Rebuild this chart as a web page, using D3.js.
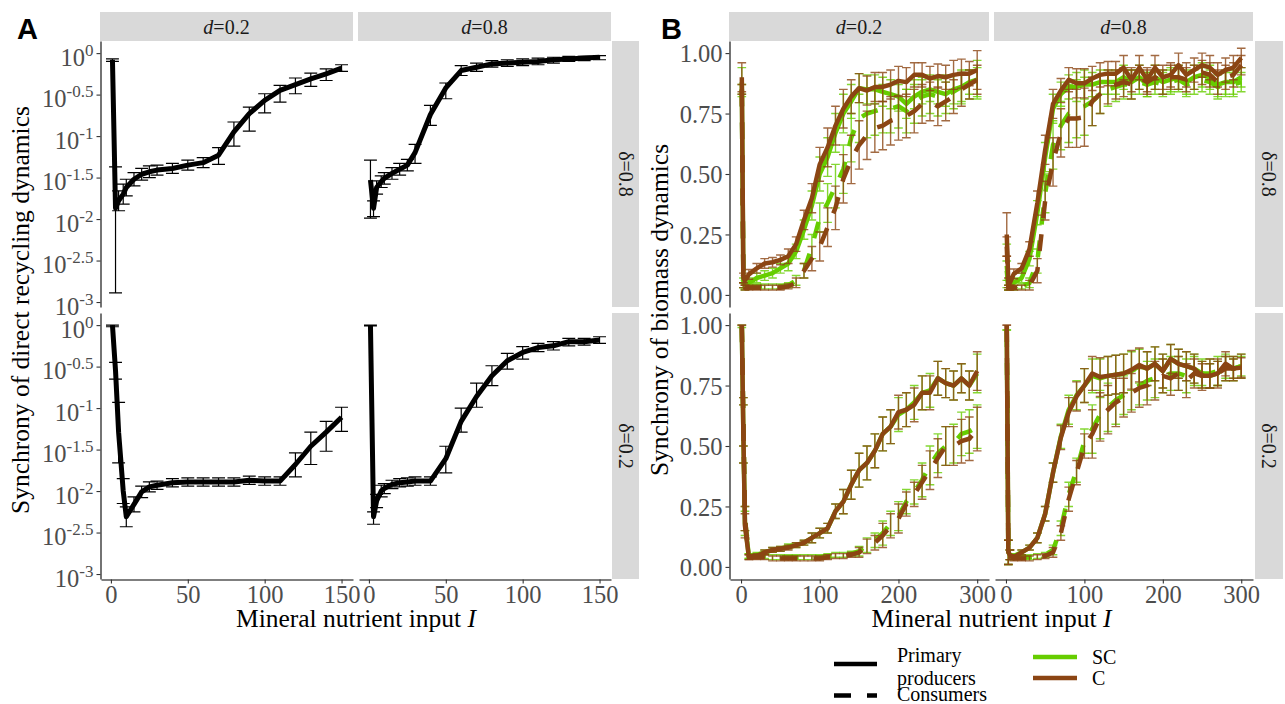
<!DOCTYPE html>
<html>
<head>
<meta charset="utf-8">
<script src="https://cdn.jsdelivr.net/npm/d3@7"></script>
<style>
  body { margin: 0; background: #fff; }
  svg { display: block; }
</style>
</head>
<body>
<svg id="chart" width="1285" height="704"></svg>
<script>
// ---------- data : panel A (log10 of synchrony of direct recycling) ----------
var xA = [1, 3, 5, 8, 10, 15, 20, 25, 30, 40, 50, 60, 70, 80, 90, 100, 110, 120, 130, 140, 150];
var yTicksA = [0, -0.5, -1, -1.5, -2, -2.5, -3]; // exponents

// d=0.2 , delta=0.8
var recMean_d02_s08 = [-0.08, -1.87, -1.78, -1.70, -1.62, -1.52, -1.46, -1.43, -1.41, -1.39, -1.35, -1.32, -1.23, -0.95, -0.73, -0.57, -0.45, -0.38, -0.31, -0.25, -0.18];
var recLo_d02_s08 = [-0.10, -2.89, -1.90, -1.82, -1.72, -1.60, -1.53, -1.50, -1.47, -1.45, -1.41, -1.38, -1.34, -1.12, -0.94, -0.72, -0.59, -0.49, -0.40, -0.33, -0.22];
var recHi_d02_s08 = [-0.07, -1.37, -1.66, -1.58, -1.52, -1.44, -1.39, -1.36, -1.35, -1.33, -1.29, -1.26, -1.14, -0.83, -0.65, -0.49, -0.39, -0.30, -0.24, -0.19, -0.14];
// d=0.8 , delta=0.8
var recMean_d08_s08 = [-1.53, -1.87, -1.62, -1.55, -1.51, -1.45, -1.40, -1.35, -1.20, -0.74, -0.42, -0.21, -0.17, -0.13, -0.12, -0.11, -0.10, -0.08, -0.07, -0.06, -0.05];
var recLo_d08_s08 = [-1.99, -1.97, -1.70, -1.62, -1.58, -1.52, -1.47, -1.42, -1.33, -0.87, -0.55, -0.27, -0.22, -0.17, -0.16, -0.15, -0.14, -0.12, -0.10, -0.09, -0.08];
var recHi_d08_s08 = [-1.29, -1.78, -1.54, -1.48, -1.44, -1.38, -1.33, -1.28, -1.10, -0.63, -0.36, -0.15, -0.12, -0.09, -0.08, -0.07, -0.06, -0.05, -0.04, -0.04, -0.03];
// d=0.2 , delta=0.2
var recMean_d02_s02 = [0.00, -0.55, -1.29, -2.00, -2.31, -2.16, -2.01, -1.95, -1.93, -1.90, -1.89, -1.89, -1.89, -1.89, -1.87, -1.88, -1.88, -1.68, -1.46, -1.29, -1.11];
var recLo_d02_s02 = [-0.02, -0.65, -1.66, -2.15, -2.43, -2.25, -2.08, -2.01, -1.98, -1.95, -1.94, -1.94, -1.94, -1.94, -1.92, -1.93, -1.93, -1.83, -1.68, -1.52, -1.28];
var recHi_d02_s02 = [0.00, -0.45, -0.93, -1.85, -2.19, -2.07, -1.94, -1.89, -1.88, -1.85, -1.84, -1.84, -1.84, -1.84, -1.82, -1.83, -1.83, -1.54, -1.29, -1.16, -0.99];
// d=0.8 , delta=0.2
var recMean_d08_s02 = [0.00, -2.31, -2.12, -2.00, -1.97, -1.92, -1.90, -1.89, -1.88, -1.88, -1.61, -1.16, -0.86, -0.61, -0.43, -0.33, -0.27, -0.25, -0.20, -0.20, -0.18];
var recLo_d08_s02 = [-0.01, -2.40, -2.20, -2.07, -2.03, -1.97, -1.95, -1.94, -1.93, -1.93, -1.78, -1.29, -0.99, -0.73, -0.53, -0.41, -0.32, -0.30, -0.25, -0.24, -0.22];
var recHi_d08_s02 = [0.00, -2.25, -2.04, -1.93, -1.91, -1.87, -1.85, -1.84, -1.83, -1.83, -1.46, -1.00, -0.70, -0.49, -0.34, -0.26, -0.22, -0.20, -0.16, -0.16, -0.14];

// ---------- data : panel B (synchrony of biomass dynamics) ----------
var xB = [1, 3, 5, 10, 20, 30, 40, 50, 60, 70, 80, 90, 100, 110, 120, 130, 140, 150, 160, 170, 180, 190, 200, 210, 220, 230, 240, 250, 260, 270, 280, 290, 300];
var yTicksB = [0, 0.25, 0.5, 0.75, 1];
var xTicksA = [0, 50, 100, 150];
var xTicksB = [0, 100, 200, 300];

// d=0.2 , delta=0.8
var bio_d02_s08_ppC = [0.90, 0.07, 0.06, 0.085, 0.11, 0.13, 0.135, 0.145, 0.16, 0.21, 0.31, 0.40, 0.54, 0.61, 0.70, 0.77, 0.82, 0.855, 0.845, 0.86, 0.86, 0.87, 0.885, 0.88, 0.91, 0.91, 0.895, 0.905, 0.90, 0.91, 0.915, 0.915, 0.93];
var bio_d02_s08_ppSC = [0.88, 0.05, 0.04, 0.05, 0.07, 0.08, 0.09, 0.11, 0.13, 0.18, 0.27, 0.37, 0.50, 0.57, 0.67, 0.75, 0.80, 0.855, 0.85, 0.85, 0.84, 0.83, 0.82, 0.79, 0.82, 0.84, 0.85, 0.84, 0.83, 0.85, 0.86, 0.88, 0.89];
var bio_d02_s08_conC = [0.85, 0.04, 0.03, 0.03, 0.03, 0.03, 0.03, 0.03, 0.035, 0.05, 0.10, 0.15, 0.20, 0.28, 0.36, 0.48, 0.56, 0.62, 0.66, 0.69, 0.70, 0.72, 0.73, 0.74, 0.76, 0.79, 0.80, 0.78, 0.80, 0.82, 0.85, 0.87, 0.89];
var bio_d02_s08_conSC = [0.85, 0.04, 0.035, 0.035, 0.035, 0.035, 0.035, 0.035, 0.04, 0.06, 0.10, 0.20, 0.32, 0.38, 0.45, 0.52, 0.65, 0.73, 0.75, 0.76, 0.77, 0.77, 0.78, 0.76, 0.80, 0.82, 0.83, 0.82, 0.83, 0.84, 0.86, 0.87, 0.88];
var bioErr_d02_s08_pp = [0.06, 0.02, 0.02, 0.02, 0.02, 0.02, 0.02, 0.02, 0.03, 0.03, 0.04, 0.06, 0.07, 0.08, 0.08, 0.08, 0.07, 0.06, 0.06, 0.06, 0.06, 0.06, 0.06, 0.06, 0.05, 0.05, 0.05, 0.05, 0.05, 0.06, 0.06, 0.05, 0.08];
var bioErr_d02_s08_con = [0.02, 0.01, 0.01, 0.01, 0.01, 0.01, 0.01, 0.01, 0.01, 0.02, 0.03, 0.05, 0.06, 0.08, 0.09, 0.10, 0.10, 0.10, 0.10, 0.10, 0.10, 0.10, 0.09, 0.09, 0.09, 0.08, 0.08, 0.08, 0.08, 0.07, 0.07, 0.06, 0.06];
// d=0.8 , delta=0.8
var bio_d08_s08_ppC = [0.25, 0.05, 0.05, 0.087, 0.11, 0.19, 0.38, 0.60, 0.79, 0.845, 0.89, 0.875, 0.875, 0.895, 0.91, 0.915, 0.915, 0.94, 0.89, 0.94, 0.89, 0.94, 0.90, 0.91, 0.95, 0.91, 0.93, 0.95, 0.94, 0.91, 0.93, 0.94, 0.98];
var bio_d08_s08_ppSC = [0.12, 0.04, 0.04, 0.05, 0.07, 0.15, 0.34, 0.57, 0.77, 0.83, 0.86, 0.86, 0.87, 0.87, 0.88, 0.88, 0.88, 0.90, 0.88, 0.90, 0.87, 0.90, 0.88, 0.89, 0.90, 0.88, 0.90, 0.91, 0.90, 0.87, 0.88, 0.88, 0.90];
var bio_d08_s08_conC = [0.20, 0.03, 0.03, 0.03, 0.03, 0.04, 0.10, 0.39, 0.55, 0.67, 0.73, 0.73, 0.735, 0.80, 0.83, 0.86, 0.87, 0.88, 0.87, 0.90, 0.88, 0.90, 0.88, 0.90, 0.90, 0.89, 0.90, 0.92, 0.91, 0.88, 0.90, 0.91, 0.95];
var bio_d08_s08_conSC = [0.10, 0.03, 0.03, 0.03, 0.035, 0.05, 0.14, 0.42, 0.62, 0.70, 0.75, 0.77, 0.78, 0.80, 0.83, 0.85, 0.86, 0.87, 0.87, 0.88, 0.87, 0.88, 0.87, 0.88, 0.89, 0.87, 0.88, 0.89, 0.88, 0.86, 0.87, 0.87, 0.88];
var bioErr_d08_s08_pp = [0.09, 0.02, 0.02, 0.02, 0.02, 0.03, 0.05, 0.06, 0.06, 0.05, 0.05, 0.06, 0.06, 0.05, 0.05, 0.05, 0.05, 0.05, 0.05, 0.05, 0.05, 0.05, 0.05, 0.05, 0.05, 0.05, 0.05, 0.05, 0.05, 0.05, 0.05, 0.05, 0.04];
var bioErr_d08_s08_con = [0.04, 0.01, 0.01, 0.01, 0.01, 0.02, 0.05, 0.08, 0.10, 0.10, 0.12, 0.12, 0.12, 0.10, 0.08, 0.07, 0.06, 0.06, 0.06, 0.05, 0.05, 0.05, 0.05, 0.05, 0.05, 0.05, 0.05, 0.05, 0.05, 0.05, 0.05, 0.05, 0.04];
// d=0.2 , delta=0.2
var bio_d02_s02_ppC = [1.00, 0.55, 0.17, 0.04, 0.045, 0.06, 0.07, 0.075, 0.08, 0.09, 0.10, 0.12, 0.14, 0.16, 0.23, 0.27, 0.34, 0.40, 0.43, 0.48, 0.55, 0.58, 0.64, 0.65, 0.67, 0.72, 0.72, 0.78, 0.76, 0.75, 0.78, 0.75, 0.81];
var bio_d02_s02_ppSC = [0.99, 0.55, 0.18, 0.045, 0.05, 0.06, 0.07, 0.075, 0.085, 0.09, 0.10, 0.12, 0.14, 0.16, 0.23, 0.27, 0.34, 0.40, 0.43, 0.48, 0.55, 0.58, 0.63, 0.65, 0.68, 0.72, 0.73, 0.78, 0.76, 0.75, 0.78, 0.75, 0.80];
var bio_d02_s02_conC = [1.00, 0.60, 0.20, 0.04, 0.04, 0.04, 0.035, 0.035, 0.035, 0.035, 0.035, 0.035, 0.035, 0.04, 0.045, 0.045, 0.05, 0.06, 0.085, 0.10, 0.13, 0.17, 0.20, 0.26, 0.30, 0.35, 0.40, 0.45, 0.50, 0.50, 0.52, 0.53, 0.57];
var bio_d02_s02_conSC = [1.00, 0.60, 0.20, 0.045, 0.045, 0.045, 0.04, 0.04, 0.04, 0.04, 0.04, 0.04, 0.04, 0.045, 0.05, 0.05, 0.055, 0.065, 0.09, 0.11, 0.14, 0.18, 0.21, 0.27, 0.31, 0.36, 0.42, 0.47, 0.50, 0.51, 0.55, 0.56, 0.58];
var bioErr_d02_s02_pp = [0.00, 0.12, 0.05, 0.01, 0.01, 0.01, 0.01, 0.01, 0.01, 0.01, 0.01, 0.02, 0.02, 0.02, 0.03, 0.05, 0.06, 0.07, 0.07, 0.07, 0.07, 0.07, 0.07, 0.07, 0.07, 0.07, 0.07, 0.07, 0.06, 0.06, 0.06, 0.06, 0.08];
var bioErr_d02_s02_con = [0.00, 0.10, 0.05, 0.01, 0.01, 0.01, 0.01, 0.01, 0.01, 0.01, 0.01, 0.01, 0.01, 0.01, 0.01, 0.01, 0.01, 0.02, 0.03, 0.03, 0.05, 0.05, 0.06, 0.05, 0.05, 0.07, 0.08, 0.08, 0.08, 0.08, 0.09, 0.09, 0.09];
// d=0.8 , delta=0.2
var bio_d08_s02_ppC = [1.00, 0.06, 0.05, 0.04, 0.06, 0.08, 0.12, 0.22, 0.39, 0.535, 0.64, 0.705, 0.75, 0.80, 0.785, 0.79, 0.795, 0.80, 0.815, 0.835, 0.82, 0.84, 0.81, 0.86, 0.84, 0.83, 0.82, 0.79, 0.79, 0.80, 0.84, 0.82, 0.825];
var bio_d08_s02_ppSC = [0.98, 0.06, 0.05, 0.045, 0.06, 0.08, 0.12, 0.22, 0.39, 0.54, 0.65, 0.71, 0.75, 0.79, 0.78, 0.79, 0.795, 0.80, 0.81, 0.83, 0.82, 0.84, 0.81, 0.86, 0.84, 0.83, 0.82, 0.80, 0.79, 0.80, 0.83, 0.82, 0.83];
var bio_d08_s02_conC = [1.00, 0.06, 0.05, 0.035, 0.035, 0.035, 0.04, 0.045, 0.06, 0.14, 0.28, 0.39, 0.50, 0.55, 0.62, 0.65, 0.68, 0.70, 0.72, 0.74, 0.75, 0.77, 0.79, 0.78, 0.80, 0.77, 0.80, 0.79, 0.80, 0.80, 0.82, 0.82, 0.83];
var bio_d08_s02_conSC = [0.98, 0.06, 0.05, 0.04, 0.04, 0.04, 0.045, 0.05, 0.07, 0.16, 0.30, 0.40, 0.52, 0.57, 0.63, 0.66, 0.69, 0.71, 0.73, 0.75, 0.77, 0.78, 0.79, 0.80, 0.80, 0.79, 0.81, 0.80, 0.80, 0.81, 0.82, 0.82, 0.83];
var bioErr_d08_s02_pp = [0.00, 0.05, 0.02, 0.01, 0.01, 0.01, 0.02, 0.03, 0.04, 0.05, 0.06, 0.06, 0.07, 0.07, 0.08, 0.08, 0.08, 0.08, 0.08, 0.07, 0.07, 0.07, 0.07, 0.06, 0.06, 0.06, 0.06, 0.05, 0.05, 0.05, 0.05, 0.04, 0.04];
var bioErr_d08_s02_con = [0.00, 0.05, 0.02, 0.01, 0.01, 0.01, 0.01, 0.01, 0.02, 0.03, 0.05, 0.05, 0.05, 0.10, 0.10, 0.10, 0.10, 0.08, 0.08, 0.08, 0.08, 0.08, 0.07, 0.07, 0.07, 0.07, 0.06, 0.06, 0.06, 0.06, 0.05, 0.05, 0.05];

var colLabels = ['0.2', '0.8'];   // d
var rowLabels = ['0.8', '0.2'];   // delta

// ---------- layout ----------
var FONT = "'Liberation Serif','Times New Roman',serif";
var GREEN = '#66CD00', BROWN = '#8B4513';
var svg = d3.select('#chart');
var rowY = [[41, 307], [313, 579]];
var colA = [[101, 353], [359, 611]];
var colB = [[730, 989], [995, 1253]];

// bandeau du haut (d=...)
function stripTop(x0, x1, lab) {
    svg.append('rect').attr('x', x0).attr('y', 12).attr('width', x1 - x0).attr('height', 29).attr('fill', '#d9d9d9');
    var t = svg.append('text').attr('x', (x0 + x1) / 2).attr('y', 33.5).attr('text-anchor', 'middle')
        .style('font-family', FONT).style('font-size', '20px').attr('fill', '#1a1a1a');
    t.append('tspan').style('font-style', 'italic').text('d');
    t.append('tspan').text('=' + lab);
}
// bandeau de droite (delta=...)
function stripRight(x0, x1, y0, y1, lab) {
    svg.append('rect').attr('x', x0).attr('y', y0).attr('width', x1 - x0).attr('height', y1 - y0).attr('fill', '#d9d9d9');
    svg.append('text').attr('transform', 'translate(' + ((x0 + x1) / 2) + ',' + ((y0 + y1) / 2) + ') rotate(90)')
        .attr('y', 7).attr('text-anchor', 'middle')
        .style('font-family', FONT).style('font-size', '20px').attr('fill', '#1a1a1a')
        .text('\u03B4=' + lab);
}

function errBars(g, pts, x, y, half, color, sw, op) {
    g.append('g').selectAll('path').data(pts).enter().append('path')
        .attr('d', function (d) {
            var cx = x(d.x), yl = y(d.lo), yh = y(d.hi);
            return 'M' + (cx - half) + ',' + yl + 'H' + (cx + half) + 'M' + cx + ',' + yl + 'V' + yh +
                'M' + (cx - half) + ',' + yh + 'H' + (cx + half);
        })
        .attr('fill', 'none').attr('stroke', color).attr('stroke-width', sw).attr('stroke-opacity', op);
}

function styleAxis(g) {
    g.select('.domain').attr('stroke', '#000').attr('stroke-width', 1.1);
    g.selectAll('.tick line').attr('stroke', '#333').attr('stroke-width', 1.1);
    g.selectAll('.tick text').style('font-family', FONT).style('font-size', '24.5px').attr('fill', '#4d4d4d');
}

// ---------- panel A ----------
var panelsA = [
    { c: 0, r: 0, m: recMean_d02_s08, lo: recLo_d02_s08, hi: recHi_d02_s08 },
    { c: 1, r: 0, m: recMean_d08_s08, lo: recLo_d08_s08, hi: recHi_d08_s08 },
    { c: 0, r: 1, m: recMean_d02_s02, lo: recLo_d02_s02, hi: recHi_d02_s02 },
    { c: 1, r: 1, m: recMean_d08_s02, lo: recLo_d08_s02, hi: recHi_d08_s02 }
];
panelsA.forEach(function (p) {
    var x = d3.scaleLinear().domain([-6.45, 157.45]).range(colA[p.c]);
    var y = d3.scaleLog().domain([Math.pow(10, -3.06), Math.pow(10, 0.146)]).range([rowY[p.r][1], rowY[p.r][0]]);
    var g = svg.append('g');
    var pts = xA.map(function (v, i) {
        return { x: v, m: Math.pow(10, p.m[i]), lo: Math.pow(10, p.lo[i]), hi: Math.pow(10, p.hi[i]) };
    });
    errBars(g, pts, x, y, x(4.2) - x(0), '#000', 1.2, 1);
    g.append('path').datum(pts)
        .attr('d', d3.line().x(function (d) { return x(d.x); }).y(function (d) { return y(d.m); }))
        .attr('fill', 'none').attr('stroke', '#000').attr('stroke-width', 5).attr('stroke-linejoin', 'round');

    if (p.c === 0) {
        var ay = svg.append('g').attr('transform', 'translate(' + (colA[0][0] - 0.5) + ',0)')
            .call(d3.axisLeft(y).tickValues(yTicksA.map(function (e) { return Math.pow(10, e); }))
                .tickSize(4).tickSizeOuter(0).tickFormat(''));
        styleAxis(ay);
        ay.selectAll('.tick text').remove();
        ay.selectAll('.tick').append('text')
            .attr('x', -7).attr('y', 12).attr('text-anchor', 'end')
            .style('font-family', FONT).attr('fill', '#4d4d4d')
            .each(function (d) {
                var e = Math.round(Math.log10(d) * 2) / 2;
                var t = d3.select(this);
                t.append('tspan').style('font-size', '24.5px').text('10');
                t.append('tspan').attr('dy', -10).style('font-size', '17px').text(String(e));
            });
    }
    if (p.r === 1) {
        var ax = svg.append('g').attr('transform', 'translate(0,' + (rowY[1][1] + 0.5) + ')')
            .call(d3.axisBottom(x).tickValues(xTicksA).tickSize(4).tickSizeOuter(0).tickPadding(3));
        styleAxis(ax);
        ax.selectAll('.tick text').attr('dy', '0.68em');
    }
});

// ---------- panel B ----------
var panelsB = [
    { c: 0, r: 0, ppSC: bio_d02_s08_ppSC, ppC: bio_d02_s08_ppC, conSC: bio_d02_s08_conSC, conC: bio_d02_s08_conC, ePP: bioErr_d02_s08_pp, eCon: bioErr_d02_s08_con },
    { c: 1, r: 0, ppSC: bio_d08_s08_ppSC, ppC: bio_d08_s08_ppC, conSC: bio_d08_s08_conSC, conC: bio_d08_s08_conC, ePP: bioErr_d08_s08_pp, eCon: bioErr_d08_s08_con },
    { c: 0, r: 1, ppSC: bio_d02_s02_ppSC, ppC: bio_d02_s02_ppC, conSC: bio_d02_s02_conSC, conC: bio_d02_s02_conC, ePP: bioErr_d02_s02_pp, eCon: bioErr_d02_s02_con },
    { c: 1, r: 1, ppSC: bio_d08_s02_ppSC, ppC: bio_d08_s02_ppC, conSC: bio_d08_s02_conSC, conC: bio_d08_s02_conC, ePP: bioErr_d08_s02_pp, eCon: bioErr_d08_s02_con }
];
panelsB.forEach(function (p) {
    var x = d3.scaleLinear().domain([-14, 315]).range(colB[p.c]);
    var y = d3.scaleLinear().domain([-0.05, 1.05]).range([rowY[p.r][1], rowY[p.r][0]]);
    var g = svg.append('g');
    var line = d3.line().x(function (d) { return x(d.x); }).y(function (d) { return y(d.m); });
    var half = x(5.5) - x(0);
    function series(vals, err) {
        return xB.map(function (v, i) { return { x: v, m: vals[i], lo: vals[i] - err[i], hi: vals[i] + err[i] }; });
    }
    [[GREEN, p.ppSC, p.conSC], [BROWN, p.ppC, p.conC]].forEach(function (s) {
        var pp = series(s[1], p.ePP), con = series(s[2], p.eCon);
        errBars(g, pp, x, y, half, s[0], 1.4, 0.8);
        errBars(g, con, x, y, half, s[0], 1.4, 0.8);
        g.append('path').datum(pp).attr('d', line).attr('fill', 'none').attr('stroke', s[0])
            .attr('stroke-width', 4.5).attr('stroke-linejoin', 'round');
        g.append('path').datum(con).attr('d', line).attr('fill', 'none').attr('stroke', s[0])
            .attr('stroke-width', 4.5).attr('stroke-dasharray', '17,16');
    });
    if (p.c === 0) {
        var ay = svg.append('g').attr('transform', 'translate(' + (colB[0][0] - 0.5) + ',0)')
            .call(d3.axisLeft(y).tickValues(yTicksB).tickSize(4).tickSizeOuter(0).tickPadding(3).tickFormat(d3.format('.2f')));
        styleAxis(ay);
        ay.selectAll('.tick text').attr('dy', '0.36em');
    }
    if (p.r === 1) {
        var ax = svg.append('g').attr('transform', 'translate(0,' + (rowY[1][1] + 0.5) + ')')
            .call(d3.axisBottom(x).tickValues(xTicksB).tickSize(4).tickSizeOuter(0).tickPadding(3));
        styleAxis(ax);
        ax.selectAll('.tick text').attr('dy', '0.68em');
    }
});

// ---------- strips ----------
for (var c = 0; c < 2; c++) {
    stripTop(colA[c][0] - 1, colA[c][1], colLabels[c]);
    stripTop(colB[c][0] - 1, colB[c][1], colLabels[c]);
}
for (var r = 0; r < 2; r++) {
    stripRight(612, 639, rowY[r][0], rowY[r][1], rowLabels[r]);
    stripRight(1255, 1283, rowY[r][0], rowY[r][1], rowLabels[r]);
}

// ---------- titles ----------
function xTitle(cx) {
    var t = svg.append('text').attr('x', cx).attr('y', 627).attr('text-anchor', 'middle')
        .style('font-family', FONT).style('font-size', '25.5px').attr('fill', '#000');
    t.append('tspan').text('Mineral nutrient input ');
    t.append('tspan').style('font-style', 'italic').text('I');
}
xTitle((colA[0][0] + colA[1][1]) / 2);
xTitle((colB[0][0] + colB[1][1]) / 2);

svg.append('text').attr('transform', 'translate(29,310) rotate(-90)').attr('text-anchor', 'middle')
    .style('font-family', FONT).style('font-size', '25.5px').attr('fill', '#000')
    .text('Synchrony of direct recycling dynamics');
svg.append('text').attr('transform', 'translate(668,310) rotate(-90)').attr('text-anchor', 'middle')
    .style('font-family', FONT).style('font-size', '25.5px').attr('fill', '#000')
    .text('Synchrony of biomass dynamics');

svg.append('text').attr('x', 17).attr('y', 39).style('font-family', "'Liberation Sans',Arial,sans-serif")
    .style('font-size', '29px').style('font-weight', 'bold').text('A');
svg.append('text').attr('x', 661).attr('y', 39).style('font-family', "'Liberation Sans',Arial,sans-serif")
    .style('font-size', '29px').style('font-weight', 'bold').text('B');

// ---------- legend ----------
var lg = svg.append('g').style('font-family', FONT).style('font-size', '20px');
lg.append('line').attr('x1', 834).attr('x2', 877).attr('y1', 664).attr('y2', 664).attr('stroke', '#000').attr('stroke-width', 4.5);
lg.append('line').attr('x1', 834).attr('x2', 877).attr('y1', 695.5).attr('y2', 695.5).attr('stroke', '#000').attr('stroke-width', 4.5).attr('stroke-dasharray', '17,16');
lg.append('text').attr('x', 897).attr('y', 662).text('Primary');
lg.append('text').attr('x', 897).attr('y', 685).text('producers');
lg.append('text').attr('x', 897).attr('y', 701).text('Consumers');
lg.append('line').attr('x1', 1033).attr('x2', 1077).attr('y1', 657).attr('y2', 657).attr('stroke', GREEN).attr('stroke-width', 4.5);
lg.append('line').attr('x1', 1033).attr('x2', 1077).attr('y1', 678).attr('y2', 678).attr('stroke', BROWN).attr('stroke-width', 4.5);
lg.append('text').attr('x', 1092).attr('y', 664).text('SC');
lg.append('text').attr('x', 1092).attr('y', 685).text('C');
</script>
</body>
</html>
